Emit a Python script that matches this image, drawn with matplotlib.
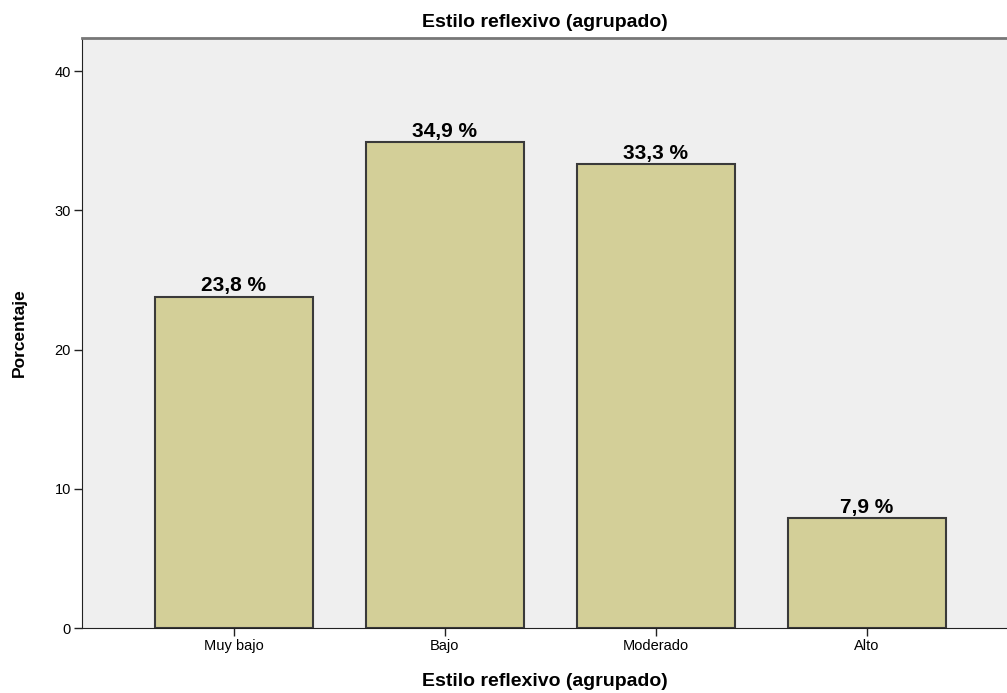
import matplotlib
matplotlib.use("Agg")
import matplotlib.pyplot as plt
import numpy as np

plt.rcParams["font.family"] = ["Liberation Sans", "DejaVu Sans"]

# datos
categorias = ["Muy bajo", "Bajo", "Moderado", "Alto"]
porcentajes = [23.8, 34.9, 33.3, 7.9]
etiquetas = ["23,8 %", "34,9 %", "33,3 %", "7,9 %"]
yticks = [0, 10, 20, 30, 40]

W, H = 1007, 693
fig = plt.figure(figsize=(W / 100, H / 100), dpi=100)
ax = fig.add_axes([82 / W, 65 / H, (1007 - 82) / W, (655 - 65) / H])
ax.set_facecolor("#efefef")

x = np.arange(len(categorias))
bars = ax.bar(x, porcentajes, width=0.75, color="#d3cf98",
              edgecolor="#3a3a3a", linewidth=1.5, zorder=2)

for b, txt in zip(bars, etiquetas):
    ax.text(b.get_x() + b.get_width() / 2, b.get_height() + 0.1, txt,
            ha="center", va="bottom", fontsize=15, fontweight="bold")

ax.set_xlim(-0.72, 3.664)
ax.set_ylim(0, 42.37)
ax.set_xticks(x)
ax.set_xticklabels(categorias, fontsize=10.5)
ax.set_yticks(yticks)
ax.set_yticklabels([str(t) for t in yticks], fontsize=10.5)
ax.tick_params(axis="both", length=6, width=1, color="#222222", pad=2)

ax.spines["right"].set_visible(False)
ax.spines["top"].set_color("#777777")
ax.spines["top"].set_linewidth(2)
ax.spines["left"].set_color("#222222")
ax.spines["bottom"].set_color("#222222")

ax.set_title("Estilo reflexivo (agrupado)", fontsize=14, fontweight="bold", pad=8)
ax.set_xlabel("Estilo reflexivo (agrupado)", fontsize=14, fontweight="bold", labelpad=14)
ax.set_ylabel("Porcentaje", fontsize=12.5, fontweight="bold", labelpad=20)

fig.savefig("out.png", dpi=100)
